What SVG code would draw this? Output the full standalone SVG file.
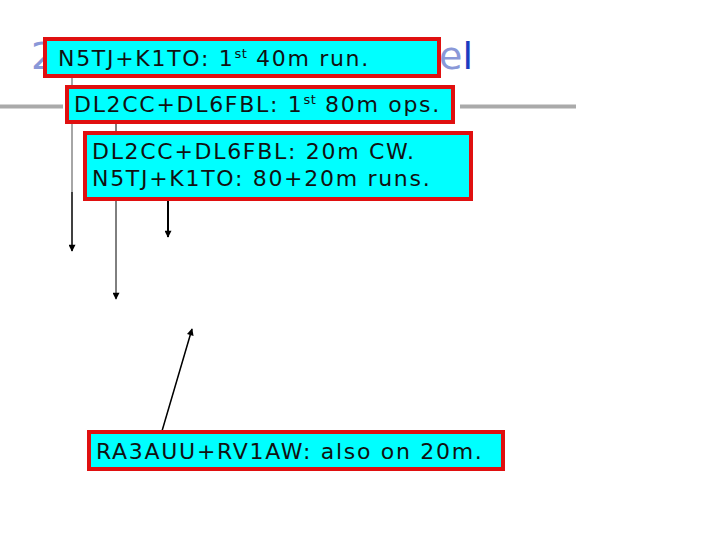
<svg xmlns="http://www.w3.org/2000/svg" width="720" height="540" viewBox="0 0 720 540">
<defs>
<style>
.box{fill:#00ffff;stroke:#e01010;stroke-width:4}
.t{font-family:"DejaVu Sans",Verdana,sans-serif;font-size:22px;letter-spacing:1.7px;fill:#111}
.sup{font-size:13px;letter-spacing:0.5px}
.ttl{font-family:"DejaVu Sans",Verdana,sans-serif;font-size:38px}
.ln{stroke:#000;fill:none}
</style>
<marker id="ah" viewBox="0 0 10 10" refX="9" refY="5" markerWidth="8" markerHeight="7" markerUnits="userSpaceOnUse" orient="auto"><path d="M0,0 L10,5 L0,10 z" fill="#000"/></marker>
</defs>
<g id="title">
<line x1="0" y1="106.5" x2="63" y2="106.5" stroke="#aaaaaa" stroke-width="4"/>
<line x1="460" y1="106.5" x2="576" y2="106.5" stroke="#aaaaaa" stroke-width="4"/>
<text class="ttl" x="31" y="69" fill="#8a98d8">2</text>
<text class="ttl" x="439" y="69"><tspan fill="#8a98d8">e</tspan><tspan fill="#1a3cc0">l</tspan></text>
</g>
<g id="connectors">
<line x1="72" y1="77" x2="72" y2="192" stroke="#888" stroke-width="1.5"/>
<line class="ln" x1="72" y1="192" x2="72" y2="251" stroke-width="1.5" marker-end="url(#ah)"/>
<line class="ln" x1="116" y1="123" x2="116" y2="299" stroke-width="1" marker-end="url(#ah)"/>
<line class="ln" x1="168" y1="200" x2="168" y2="237" stroke-width="2" marker-end="url(#ah)"/>
<line class="ln" x1="162" y1="431" x2="192" y2="329" stroke-width="1.5" marker-end="url(#ah)"/>
</g>
<g id="n1">
<rect class="box" x="45" y="39" width="394" height="37"/>
<text class="t" x="58" y="66">N5TJ+K1TO: 1<tspan class="sup" dy="-8">st</tspan><tspan dy="8"> 40m run.</tspan></text>
</g>
<g id="n2">
<rect class="box" x="67" y="87" width="386" height="35"/>
<text class="t" x="74" y="112">DL2CC+DL6FBL: 1<tspan class="sup" dy="-8">st</tspan><tspan dy="8"> 80m ops.</tspan></text>
</g>
<g id="n3">
<rect class="box" x="85" y="133" width="386" height="66"/>
<text class="t" x="92" y="159">DL2CC+DL6FBL: 20m CW.</text>
<text class="t" x="92" y="186">N5TJ+K1TO: 80+20m runs.</text>
</g>
<g id="n4">
<rect class="box" x="89" y="432" width="414" height="37"/>
<text class="t" x="96" y="459">RA3AUU+RV1AW: also on 20m.</text>
</g>
</svg>
